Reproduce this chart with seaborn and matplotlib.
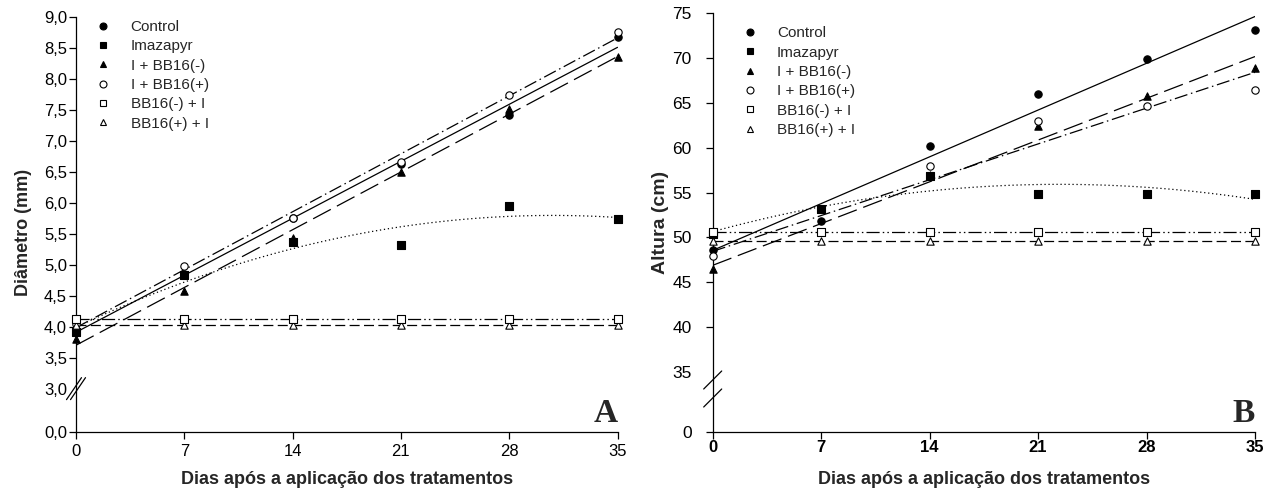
import numpy as np
import pandas as pd
import matplotlib
matplotlib.use("Agg")
import matplotlib.pyplot as plt
import seaborn as sns
from matplotlib.lines import Line2D

sns.set_theme(style="ticks")
plt.rcParams['font.family'] = ['Liberation Sans', 'DejaVu Sans']

# ---------------- data ----------------
days = [0, 7, 14, 21, 28, 35]
treatments = ["Control", "Imazapyr", "I + BB16(-)", "I + BB16(+)", "BB16(-) + I", "BB16(+) + I"]

# Diametro (mm)
diam_control = [3.95, 4.85, 5.75, 6.62, 7.41, 8.68]
diam_imazapyr = [3.92, 4.84, 5.36, 5.32, 5.95, 5.74]
diam_i_bbm = [3.80, 4.58, 5.44, 6.50, 7.52, 8.35]
diam_i_bbp = [4.05, 4.98, 5.75, 6.66, 7.74, 8.76]
diam_bbm_i = [4.13, 4.13, 4.13, 4.13, 4.13, 4.13]
diam_bbp_i = [4.03, 4.03, 4.03, 4.03, 4.03, 4.03]

# Altura (cm)
alt_control = [48.6, 51.8, 60.2, 66.0, 69.9, 73.1]
alt_imazapyr = [50.4, 53.2, 56.8, 54.9, 54.9, 54.8]
alt_i_bbm = [46.5, 50.6, 57.0, 62.4, 65.8, 68.9]
alt_i_bbp = [47.9, 50.6, 58.0, 63.0, 64.7, 66.4]
alt_bbm_i = [50.6, 50.6, 50.6, 50.6, 50.6, 50.6]
alt_bbp_i = [49.6, 49.6, 49.6, 49.6, 49.6, 49.6]

fit_order = [1, 2, 1, 1, 1, 1]

diam_ticks = [3.0, 3.5, 4.0, 4.5, 5.0, 5.5, 6.0, 6.5, 7.0, 7.5, 8.0, 8.5, 9.0]
alt_ticks = [35, 40, 45, 50, 55, 60, 65, 70, 75]

# ---------------- styles ----------------
markers = ["o", "s", "^", "o", "s", "^"]
filled = [True, True, True, False, False, False]
linestyles = ["-", (0, (1, 2.2)), (0, (16, 5.5)), (0, (10.5, 3, 1.2, 3)),
              (0, (10.5, 2.5, 1.2, 2.5, 1.2, 2.5)), (0, (8, 3.5))]
draw_order = [2, 1, 0, 3, 5, 4]

fig = plt.figure(figsize=(12.81, 5.04), dpi=100)
axL = fig.add_axes([76 / 1281, 72 / 504, 541.5 / 1281, 415 / 504])
axR = fig.add_axes([712.7 / 1281, 72 / 504, 542.3 / 1281, 418.7 / 504])


def draw_panel(ax, series):
    for i in range(6):
        sns.regplot(x=np.array(days, float), y=np.array(series[i], float), order=fit_order[i],
                    ci=None, scatter=False, truncate=True, ax=ax,
                    line_kws=dict(color="black", lw=0.9, linestyle=linestyles[i], zorder=2))
    for i in draw_order:
        df = pd.DataFrame({"x": days, "y": series[i]})
        sns.scatterplot(data=df, x="x", y="y", ax=ax, marker=markers[i], s=28,
                        color="black" if filled[i] else "white",
                        edgecolor="black", linewidth=0.8, zorder=3 + draw_order.index(i),
                        clip_on=False, legend=False)
    handles = [Line2D([], [], ls="none", marker=markers[i], ms=5,
                      mfc="black" if filled[i] else "white", mec="black", mew=0.8)
               for i in range(6)]
    return handles


hL = draw_panel(axL, [diam_control, diam_imazapyr, diam_i_bbm, diam_i_bbp, diam_bbm_i, diam_bbp_i])
hR = draw_panel(axR, [alt_control, alt_imazapyr, alt_i_bbm, alt_i_bbp, alt_bbm_i, alt_bbp_i])

# ---- left axes ----
bottomL = 2.3
axL.set_xlim(0, 35)
axL.set_ylim(bottomL, 9.0)
axL.set_yticks([bottomL] + diam_ticks)
axL.set_yticklabels(["0,0"] + [f"{v:.1f}".replace(".", ",") for v in diam_ticks], fontsize=12)
axL.set_xticks(days)
axL.set_xticklabels([str(d) for d in days], fontsize=12)

# ---- right axes ----
bottomR = 28.3
axR.set_xlim(0, 35)
axR.set_ylim(bottomR, 75)
axR.set_yticks([bottomR] + alt_ticks)
axR.set_yticklabels(["0"] + [str(v) for v in alt_ticks], fontsize=12.5)
axR.set_xticks(days)
axR.set_xticklabels([str(d) for d in days], fontsize=12, fontweight="bold")

for ax in (axL, axR):
    sns.despine(ax=ax)
    for sp in ("left", "bottom"):
        ax.spines[sp].set_linewidth(0.9)
        ax.spines[sp].set_color("black")
    ax.tick_params(direction="out", length=5, width=0.9, colors="black")
    ax.set_xlabel("Dias após a aplicação dos tratamentos", fontsize=13, fontweight="bold")
    ax.grid(False)

axL.tick_params(axis="y", pad=1.5)
axL.tick_params(axis="x", pad=4)
axR.tick_params(axis="y", pad=10)
axR.tick_params(axis="x", pad=1)

# hide tick marks at break positions
axL.yaxis.get_major_ticks()[1].tick1line.set_visible(False)
axR.yaxis.get_major_ticks()[1].tick1line.set_visible(False)

axL.set_ylabel("Diâmetro (mm)", fontsize=13, fontweight="bold")
axR.set_ylabel("Altura (cm)", fontsize=14, fontweight="bold")
axL.yaxis.set_label_coords(-0.081, 0.48)
axR.yaxis.set_label_coords(-0.081, 0.5)
axL.xaxis.set_label_coords(0.5, -0.094)
axR.xaxis.set_label_coords(0.5, -0.093)

# axis break marks
wL, hLpx = 541.5, 415.0
yb = (3.0 - bottomL) / (9.0 - bottomL)
for off in (-2.0, 2.0):
    axL.plot([(off - 7.5) / wL, (off + 7.5) / wL], [yb - 11 / hLpx, yb + 11 / hLpx],
             transform=axL.transAxes, color="black", lw=0.9, clip_on=False)
wR, hRpx = 542.3, 418.7
for yc in (52 / hRpx, 34 / hRpx):
    axR.plot([-9 / wR, 9 / wR], [yc - 9 / hRpx, yc + 9 / hRpx],
             transform=axR.transAxes, color="black", lw=0.9, clip_on=False)

# legends
axL.legend(hL, treatments, loc="upper left", bbox_to_anchor=(0.036, 0.993), frameon=False,
           fontsize=11, handlelength=1.0, handletextpad=1.3, labelspacing=0.35,
           borderpad=0, borderaxespad=0)
axR.legend(hR, treatments, loc="upper left", bbox_to_anchor=(0.054, 0.969), frameon=False,
           fontsize=11, handlelength=1.0, handletextpad=1.3, labelspacing=0.35,
           borderpad=0, borderaxespad=0)

# panel letters
axL.text(1.0, 0.025, "A", transform=axL.transAxes, ha="right", va="baseline",
         fontsize=24, fontweight="bold", family="Liberation Serif")
axR.text(1.0, 0.025, "B", transform=axR.transAxes, ha="right", va="baseline",
         fontsize=24, fontweight="bold", family="Liberation Serif")

fig.savefig("out.png", dpi=100)
